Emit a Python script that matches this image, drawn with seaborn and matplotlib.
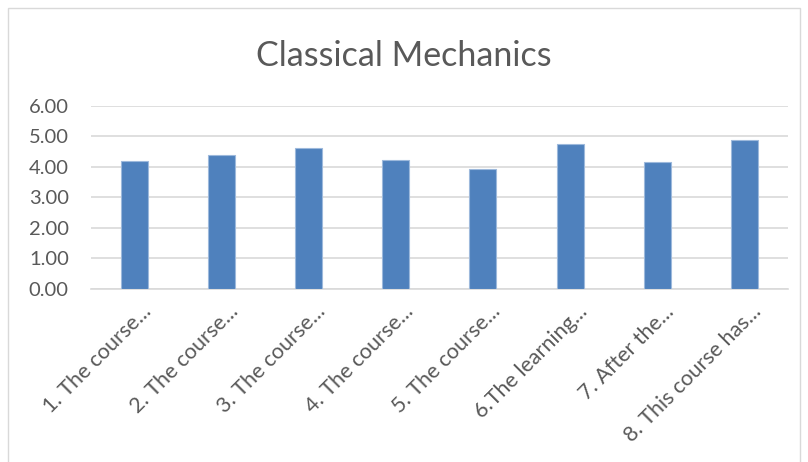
import pandas as pd
import seaborn as sns
import matplotlib.pyplot as plt
from matplotlib.patches import Rectangle
import matplotlib.transforms as mtransforms

categories = ['1. The course...', '2. The course...', '3. The course...', '4. The course...',
              '5. The course...', '6.The learning...', '7. After the...', '8. This course has...']
scores = [4.21, 4.39, 4.61, 4.24, 3.93, 4.74, 4.17, 4.90]
yticks = [0, 1, 2, 3, 4, 5, 6]

df = pd.DataFrame({'item': categories, 'score': scores})

sns.set_style('white')
plt.rcParams['font.family'] = ['Lato', 'DejaVu Sans']

fig = plt.figure(figsize=(8.08, 4.62), dpi=100)
ax = fig.add_axes([0.1126, 0.3745, 0.8624, 0.3961])

sns.barplot(data=df, x='item', y='score', color='#4F81BD', width=0.31,
            edgecolor='#9DB9DC', linewidth=0.8, saturation=1, ax=ax, zorder=3)

ax.set_ylim(0, 6)
ax.set_yticks(yticks)
ax.set_yticklabels([f'{v:.2f}' for v in yticks], fontsize=14.5, color='#595959')
ax.set_xlim(-0.5, len(categories) - 0.5)
ax.yaxis.grid(True, color='#D9D9D9', linewidth=1.2, zorder=0)
ax.set_axisbelow(True)
for s in ['top', 'right', 'left']:
    ax.spines[s].set_visible(False)
ax.spines['bottom'].set_color('#D9D9D9')
ax.spines['bottom'].set_linewidth(1.2)
ax.tick_params(axis='y', length=0, pad=16)
ax.tick_params(axis='x', length=0, pad=9)
ax.set_xlabel('')
ax.set_ylabel('')

shift = mtransforms.ScaledTranslation(5 / 72, 0, fig.dpi_scale_trans)
for lbl in ax.get_xticklabels():
    lbl.set_rotation(45)
    lbl.set_ha('right')
    lbl.set_rotation_mode('anchor')
    lbl.set_fontsize(15.5)
    lbl.set_color('#595959')
    lbl.set_transform(lbl.get_transform() + shift)

fig.text(0.5, 0.878, 'Classical Mechanics', ha='center', va='center',
         fontsize=24.5, color='#595959')

# chart frame
fig.patches.append(Rectangle((8 / 808, -0.05), 792 / 808, 1.05 - 8 / 462,
                             transform=fig.transFigure, fill=False,
                             edgecolor='#D9D9D9', linewidth=1))

fig.savefig('out.png', dpi=100)
